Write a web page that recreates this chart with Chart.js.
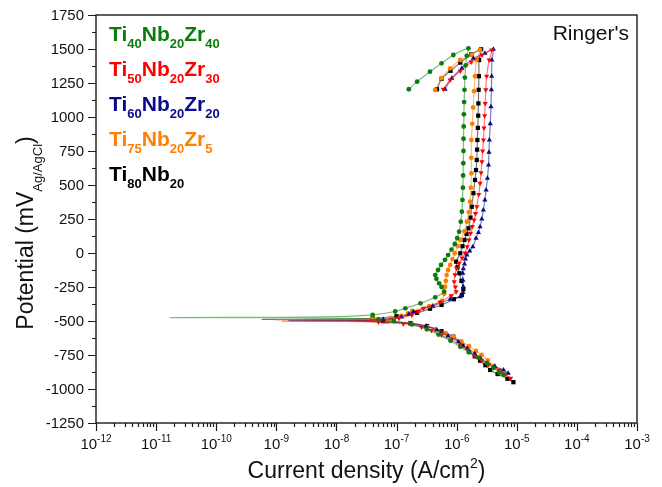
<!DOCTYPE html>
<html>
<head>
<meta charset="utf-8">
<script src="https://cdn.jsdelivr.net/npm/chart.js@4.4.1/dist/chart.umd.min.js"></script>
<style>
    html, body { margin: 0; padding: 0; background: #fff; }
</style>
</head>
<body>
<canvas id="myChart" width="662" height="487"></canvas>
<script>
// potential (mV) and current density (A/cm2), in scan order
var potZr40 = [-895, -880, -845, -811, -770, -730, -690, -645, -600, -561, -525, -500, -489, -481, -476, -475, -473, -468, -455, -430, -407, -370, -326, -284, -250, -223, -190, -162, -125, -88, -50, -15, 25, 66, 110, 157, 230, 304, 390, 480, 570, 660, 750, 840, 930, 1020, 1110, 1200, 1290, 1380, 1450, 1505, 1456, 1395, 1333, 1260, 1204];
var curZr40 = [6.0e-6, 5.1e-6, 4.1e-6, 3.2e-6, 2.3e-6, 1.6e-6, 1.15e-6, 7.9e-7, 5.0e-7, 3.2e-7, 1.8e-7, 9e-8, 5e-8, 1.5e-8, 1e-9, 1.7e-11, 1e-9, 1e-8, 4e-8, 9.5e-8, 1.4e-7, 2.5e-7, 4.4e-7, 6.2e-7, 5.6e-7, 5.1e-7, 4.6e-7, 4.4e-7, 4.9e-7, 5.5e-7, 6.4e-7, 7.2e-7, 8.2e-7, 9.3e-7, 1.02e-6, 1.1e-6, 1.17e-6, 1.22e-6, 1.25e-6, 1.27e-6, 1.28e-6, 1.29e-6, 1.3e-6, 1.3e-6, 1.31e-6, 1.32e-6, 1.33e-6, 1.35e-6, 1.37e-6, 1.41e-6, 1.47e-6, 1.57e-6, 8.8e-7, 5.6e-7, 3.6e-7, 2.2e-7, 1.6e-7];

var potZr30 = [-921, -890, -860, -820, -790, -757, -715, -676, -640, -603, -570, -545, -520, -508, -503, -502, -500, -495, -480, -455, -430, -407, -360, -314, -285, -250, -211, -160, -112, -75, -37, 0, 46, 95, 145, 195, 243, 290, 340, 430, 512, 590, 671, 750, 831, 920, 1010, 1100, 1200, 1300, 1419, 1493, 1456, 1404, 1338, 1272, 1204];
var curZr30 = [7.9e-6, 6.3e-6, 5.0e-6, 3.4e-6, 2.6e-6, 2.0e-6, 1.55e-6, 1.15e-6, 8.2e-7, 5.6e-7, 3.8e-7, 2.6e-7, 1.3e-7, 5e-8, 1.2e-8, 1.25e-9, 1.5e-8, 5e-8, 1.1e-7, 1.8e-7, 2.3e-7, 2.8e-7, 5.3e-7, 8.1e-7, 9.8e-7, 9.5e-7, 9.1e-7, 9.4e-7, 1.0e-6, 1.1e-6, 1.23e-6, 1.38e-6, 1.5e-6, 1.6e-6, 1.7e-6, 1.82e-6, 1.95e-6, 2.06e-6, 2.16e-6, 2.33e-6, 2.45e-6, 2.55e-6, 2.63e-6, 2.7e-6, 2.79e-6, 2.85e-6, 2.92e-6, 2.98e-6, 3.05e-6, 3.15e-6, 3.47e-6, 3.83e-6, 2.65e-6, 1.75e-6, 1.15e-6, 7.8e-7, 6.0e-7];

var potZr20 = [-885, -860, -835, -811, -775, -740, -700, -652, -610, -566, -540, -520, -506, -499, -497, -495, -488, -470, -450, -432, -390, -340, -321, -290, -248, -200, -149, -115, -80, -45, -15, 15, 46, 108, 150, 193, 250, 316, 390, 463, 550, 647, 740, 831, 950, 1076, 1200, 1300, 1419, 1498, 1468, 1432, 1358, 1285, 1204];
var curZr20 = [7.2e-6, 6.0e-6, 4.3e-6, 3.2e-6, 2.5e-6, 2.0e-6, 1.5e-6, 1.07e-6, 7.2e-7, 4.7e-7, 3.1e-7, 1.7e-7, 6e-8, 1.5e-8, 1.6e-9, 1.5e-8, 6e-8, 1.2e-7, 1.6e-7, 1.9e-7, 4e-7, 7.8e-7, 1.15e-6, 1.27e-6, 1.29e-6, 1.27e-6, 1.26e-6, 1.29e-6, 1.35e-6, 1.4e-6, 1.48e-6, 1.65e-6, 1.86e-6, 2.1e-6, 2.3e-6, 2.45e-6, 2.62e-6, 2.78e-6, 2.95e-6, 3.09e-6, 3.25e-6, 3.39e-6, 3.45e-6, 3.5e-6, 3.62e-6, 3.72e-6, 3.78e-6, 3.82e-6, 3.85e-6, 4.07e-6, 2.95e-6, 1.9e-6, 1.22e-6, 8.3e-7, 6.4e-7];

var potZr5 = [-897, -870, -830, -790, -750, -720, -685, -650, -615, -590, -560, -545, -520, -505, -496, -492, -490, -486, -478, -462, -445, -426, -390, -353, -300, -248, -205, -162, -125, -88, -45, -2, 50, 96, 160, 230, 300, 377, 480, 586, 700, 831, 950, 1070, 1190, 1300, 1419, 1493, 1456, 1419, 1358, 1285, 1199];
var curZr5 = [6.4e-6, 5.4e-6, 4.2e-6, 3.3e-6, 2.6e-6, 2.1e-6, 1.6e-6, 1.2e-6, 8.8e-7, 6.6e-7, 4.4e-7, 3.3e-7, 1.7e-7, 7e-8, 1.5e-8, 1.0e-9, 1.2e-8, 4e-8, 8e-8, 1.2e-7, 1.55e-7, 1.82e-7, 3.5e-7, 5.7e-7, 6.2e-7, 6.4e-7, 6.6e-7, 6.8e-7, 7.2e-7, 7.8e-7, 8.5e-7, 9.3e-7, 1.04e-6, 1.15e-6, 1.35e-6, 1.48e-6, 1.6e-6, 1.67e-6, 1.72e-6, 1.76e-6, 1.75e-6, 1.76e-6, 1.82e-6, 1.88e-6, 1.95e-6, 2.02e-6, 2.15e-6, 2.45e-6, 1.78e-6, 1.15e-6, 7.8e-7, 5.6e-7, 4.4e-7];

var potZr0 = [-950, -925, -890, -860, -825, -792, -760, -726, -680, -615, -575, -537, -515, -500, -493, -488, -486, -480, -465, -440, -410, -382, -340, -309, -267, -205, -149, -105, -64, -2, 50, 96, 140, 182, 260, 340, 440, 537, 610, 684, 760, 831, 920, 1010, 1100, 1200, 1300, 1419, 1498, 1460, 1400, 1340, 1280, 1204];
var curZr0 = [8.8e-6, 7.0e-6, 4.8e-6, 3.6e-6, 3.0e-6, 2.45e-6, 2.0e-6, 1.6e-6, 1.25e-6, 8.8e-7, 5.6e-7, 3.2e-7, 1.7e-7, 6e-8, 1.5e-8, 5.8e-10, 1e-8, 4e-8, 1.0e-7, 2.2e-7, 3.6e-7, 5.6e-7, 9e-7, 1.22e-6, 1.29e-6, 1.2e-6, 1.11e-6, 1.03e-6, 9.8e-7, 1.15e-6, 1.25e-6, 1.35e-6, 1.46e-6, 1.57e-6, 1.7e-6, 1.78e-6, 1.9e-6, 2.02e-6, 2.1e-6, 2.16e-6, 2.19e-6, 2.21e-6, 2.25e-6, 2.28e-6, 2.3e-6, 2.32e-6, 2.34e-6, 2.36e-6, 2.55e-6, 1.75e-6, 1.15e-6, 7.9e-7, 5.6e-7, 4.7e-7];

var alloyNames = ['Ti40Nb20Zr40', 'Ti50Nb20Zr30', 'Ti60Nb20Zr20', 'Ti75Nb20Zr5', 'Ti80Nb20'];
var alloyColors = ['#0c7c0c', '#ff0000', '#0a0a8c', '#ff8000', '#000000'];
var alloyMarkers = ['circle', 'triangle', 'triangle', 'circle', 'rect'];
var markerTurn = [0, 180, 0, 0, 0];

var yTicks = [-1250, -1000, -750, -500, -250, 0, 250, 500, 750, 1000, 1250, 1500, 1750];
var xDecades = [-12, -11, -10, -9, -8, -7, -6, -5, -4, -3];

var FONT = '"Liberation Sans", Arial, sans-serif';

function toPoints(cur, pot) {
    var pts = [];
    for (var i = 0; i < cur.length; i++) {
        pts.push({ x: cur[i], y: pot[i] });
    }
    return pts;
}

// text with sub/superscript parts, returns width
function scriptWidth(ctx, parts, mainFont, smallFont) {
    var w = 0;
    parts.forEach(function(p) {
        ctx.font = p.small ? smallFont : mainFont;
        w += ctx.measureText(p.t).width;
    });
    return w;
}

function drawScript(ctx, parts, x, y, mainFont, smallFont, shift) {
    parts.forEach(function(p) {
        ctx.font = p.small ? smallFont : mainFont;
        ctx.fillText(p.t, x, p.small ? y + shift : y);
        x += ctx.measureText(p.t).width;
    });
}

function nameParts(name) {
    return name.split(/(\d+)/).filter(function(s) { return s.length; }).map(function(s) {
        return { t: s, small: /^\d+$/.test(s) };
    });
}

var axisPainter = {
    id: 'axisPainter',
    afterDraw: function(chart) {
        var ctx = chart.ctx;
        var a = chart.chartArea;
        var xs = chart.scales.x;
        var ys = chart.scales.y;

        ctx.save();
        ctx.strokeStyle = '#1a1a1a';
        ctx.lineWidth = 1.4;
        ctx.strokeRect(a.left, a.top, a.right - a.left, a.bottom - a.top);

        // y ticks, outside
        ctx.lineWidth = 1.2;
        ctx.beginPath();
        yTicks.forEach(function(v, k) {
            var py = Math.round(ys.getPixelForValue(v)) + 0.5;
            ctx.moveTo(a.left, py);
            ctx.lineTo(a.left - 8, py);
            if (k < yTicks.length - 1) {
                var pm = Math.round(ys.getPixelForValue((v + yTicks[k + 1]) / 2)) + 0.5;
                ctx.moveTo(a.left, pm);
                ctx.lineTo(a.left - 4, pm);
            }
        });
        // x ticks, outside
        xDecades.forEach(function(d, k) {
            var px = Math.round(xs.getPixelForValue(Math.pow(10, d))) + 0.5;
            ctx.moveTo(px, a.bottom);
            ctx.lineTo(px, a.bottom + 8);
            if (k < xDecades.length - 1) {
                for (var m = 2; m <= 9; m++) {
                    var pm = Math.round(xs.getPixelForValue(m * Math.pow(10, d))) + 0.5;
                    ctx.moveTo(pm, a.bottom);
                    ctx.lineTo(pm, a.bottom + 4);
                }
            }
        });
        ctx.stroke();

        ctx.fillStyle = '#111';
        ctx.font = '15px ' + FONT;
        ctx.textAlign = 'right';
        ctx.textBaseline = 'middle';
        yTicks.forEach(function(v) {
            ctx.fillText(String(v), a.left - 12, ys.getPixelForValue(v) + 1);
        });

        ctx.textAlign = 'left';
        ctx.textBaseline = 'alphabetic';
        xDecades.forEach(function(d) {
            var parts = [{ t: '10', small: false }, { t: String(d), small: true }];
            var w = scriptWidth(ctx, parts, '15px ' + FONT, '10px ' + FONT);
            var px = xs.getPixelForValue(Math.pow(10, d));
            drawScript(ctx, parts, px - w / 2, 449, '15px ' + FONT, '10px ' + FONT, -7);
        });

        // x title
        var xt = [{ t: 'Current density (A/cm', small: false }, { t: '2', small: true }, { t: ')', small: false }];
        var xw = scriptWidth(ctx, xt, '23px ' + FONT, '14px ' + FONT);
        drawScript(ctx, xt, (a.left + a.right) / 2 - xw / 2, 478, '23px ' + FONT, '14px ' + FONT, -10);

        // y title
        var yt = [{ t: 'Potential (mV', small: false }, { t: 'Ag/AgCl', small: true }, { t: ')', small: false }];
        var yw = scriptWidth(ctx, yt, '23px ' + FONT, '13px ' + FONT);
        ctx.save();
        ctx.translate(33, 233);
        ctx.rotate(-Math.PI / 2);
        drawScript(ctx, yt, -yw / 2, 0, '23px ' + FONT, '13px ' + FONT, 9);
        ctx.restore();

        // legend
        alloyNames.forEach(function(name, k) {
            ctx.fillStyle = alloyColors[k];
            drawScript(ctx, nameParts(name), 109, 41 + 35 * k, 'bold 21px ' + FONT, 'bold 13px ' + FONT, 7);
        });

        ctx.fillStyle = '#111';
        ctx.textAlign = 'right';
        ctx.font = '21px ' + FONT;
        ctx.fillText("Ringer's", 629, 40);
        ctx.restore();
    }
};

var allPot = [potZr40, potZr30, potZr20, potZr5, potZr0];
var allCur = [curZr40, curZr30, curZr20, curZr5, curZr0];

var datasets = alloyNames.map(function(name, k) {
    return {
        label: name,
        data: toPoints(allCur[k], allPot[k]),
        showLine: true,
        borderColor: alloyColors[k] + '88',
        borderWidth: 1.2,
        backgroundColor: alloyColors[k],
        pointBackgroundColor: alloyColors[k],
        pointBorderColor: alloyColors[k],
        pointBorderWidth: 0,
        pointStyle: alloyMarkers[k],
        pointRotation: markerTurn[k],
        pointRadius: function(c) {
            if (!c.raw || c.raw.x < 2e-8) return 0;
            return alloyMarkers[k] == 'circle' ? 2.4 : 3;
        },
        tension: 0.2
    };
});

var myChart = new Chart(document.getElementById('myChart').getContext('2d'), {
    type: 'scatter',
    data: { datasets: datasets },
    options: {
        responsive: false,
        animation: false,
        layout: { padding: { top: 15, right: 25, left: 0, bottom: 0 } },
        plugins: { legend: { display: false }, tooltip: { enabled: false } },
        scales: {
            x: {
                type: 'logarithmic', min: 1e-12, max: 1e-3,
                ticks: { display: false },
                grid: { display: false },
                border: { display: false },
                afterFit: function(s) { s.height = 64; }
            },
            y: {
                type: 'linear', min: -1250, max: 1750,
                ticks: { display: false },
                grid: { display: false },
                border: { display: false },
                afterFit: function(s) { s.width = 96; }
            }
        }
    },
    plugins: [axisPainter]
});
</script>
</body>
</html>
